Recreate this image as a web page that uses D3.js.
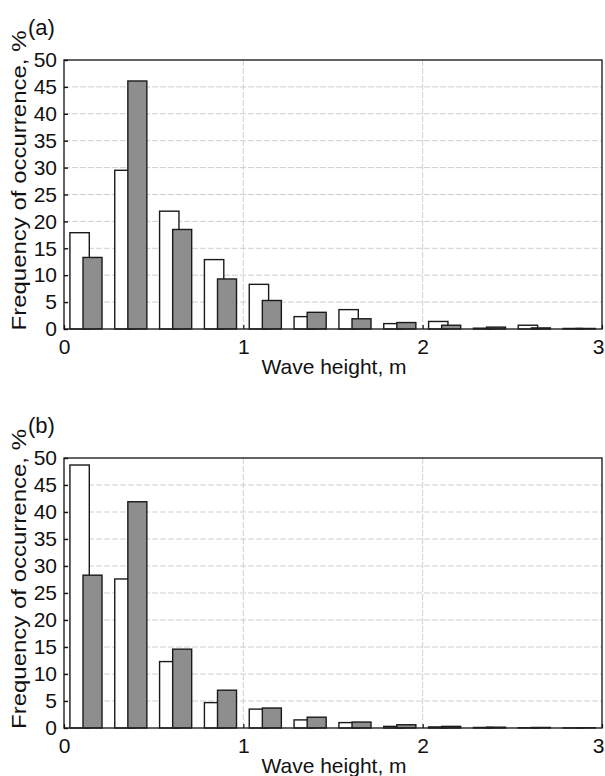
<!DOCTYPE html>
<html>
<head>
<meta charset="utf-8">
<script src="https://cdn.jsdelivr.net/npm/d3@7"></script>
<style>
  body { margin: 0; background: #fff; }
  text { font-family: "Liberation Sans", Arial, sans-serif; fill: #111; }
</style>
</head>
<body>
<svg width="605" height="776"></svg>
<script>
// Lower edges of the wave height bins (m), bin width 0.25 m
const binStarts = [0, 0.25, 0.5, 0.75, 1, 1.25, 1.5, 1.75, 2, 2.25, 2.5, 2.75];

// Panel (a) frequencies, %
const whiteA = [17.9, 29.5, 21.9, 12.9, 8.3, 2.3, 3.6, 1.0, 1.4, 0.15, 0.7, 0.1];
const grayA  = [13.3, 46.1, 18.5, 9.3, 5.3, 3.1, 1.9, 1.2, 0.7, 0.35, 0.2, 0.1];

// Panel (b) frequencies, %
const whiteB = [48.7, 27.6, 12.3, 4.7, 3.5, 1.5, 1.0, 0.3, 0.2, 0.1, 0.05, 0.02];
const grayB  = [28.3, 41.9, 14.6, 7.0, 3.7, 2.0, 1.1, 0.6, 0.3, 0.15, 0.1, 0.05];

const xTicks = [0, 1, 2, 3];
const yTicks = [0, 5, 10, 15, 20, 25, 30, 35, 40, 45, 50];

const svg = d3.select('svg');

// Draw one histogram panel
function drawPanel(label, whiteVals, grayVals, top, bottom){
    const left = 64, right = 602;
    const x = d3.scaleLinear().domain([0, 3]).range([left, right]);
    const y = d3.scaleLinear().domain([0, 50]).range([bottom, top]);
    const g = svg.append('g');

    // horizontal dashed grid
    g.selectAll('.hg').data(yTicks.slice(1, -1)).enter().append('line')
        .attr('x1', left).attr('x2', right)
        .attr('y1', d => y(d)).attr('y2', d => y(d))
        .style('stroke', '#cfcfcf').style('stroke-width', 1)
        .style('stroke-dasharray', '6,2');
    // vertical dashed grid
    g.selectAll('.vg').data(xTicks.slice(1, -1)).enter().append('line')
        .attr('x1', d => x(d)).attr('x2', d => x(d))
        .attr('y1', top).attr('y2', bottom)
        .style('stroke', '#cfcfcf').style('stroke-width', 1)
        .style('stroke-dasharray', '6,2');

    // white bars, then gray bars on top
    g.selectAll('.wb').data(whiteVals).enter().append('rect')
        .attr('x', (d, i) => x(binStarts[i] + 0.033))
        .attr('width', x(0.108) - x(0))
        .attr('y', d => y(d))
        .attr('height', d => bottom - y(d))
        .style('fill', '#fff').style('stroke', '#1a1a1a').style('stroke-width', 1.4);
    g.selectAll('.gb').data(grayVals).enter().append('rect')
        .attr('x', (d, i) => x(binStarts[i] + 0.106))
        .attr('width', x(0.106) - x(0))
        .attr('y', d => y(d))
        .attr('height', d => bottom - y(d))
        .style('fill', '#8e8e8e').style('stroke', '#1a1a1a').style('stroke-width', 1.4);

    // frame
    g.append('rect')
        .attr('x', left).attr('y', top)
        .attr('width', right - left).attr('height', bottom - top)
        .style('fill', 'none').style('stroke', '#222').style('stroke-width', 1.4);

    // y axis ticks pointing inward
    const yAxis = d3.axisLeft(y).tickValues(yTicks).tickSizeInner(-4).tickSizeOuter(0).tickPadding(7);
    const ya = g.append('g').attr('transform', `translate(${left},0)`).call(yAxis);
    ya.select('.domain').remove();
    ya.selectAll('line').style('stroke', '#111').style('stroke-width', 1.4);
    ya.selectAll('text').style('font-size', '21px').style('font-family', '"Liberation Sans", Arial, sans-serif').attr('fill', '#111');

    const xAxis = d3.axisBottom(x).tickValues(xTicks).tickFormat(d3.format('d'))
        .tickSizeInner(-4).tickSizeOuter(0).tickPadding(10);
    const xa = g.append('g').attr('transform', `translate(0,${bottom})`).call(xAxis);
    xa.select('.domain').remove();
    xa.selectAll('line').style('stroke', '#111').style('stroke-width', 1.2);
    xa.selectAll('text').style('font-size', '21px').style('font-family', '"Liberation Sans", Arial, sans-serif').attr('fill', '#111');
    // last label sits at the page edge, keep it inside
    xa.selectAll('text').filter(d => d === 3).attr('text-anchor', 'end').attr('dx', 2);

    // axis titles
    g.append('text')
        .text('Wave height, m')
        .attr('x', 334).attr('y', bottom + 45)
        .attr('text-anchor', 'middle')
        .style('font-size', '21px');
    g.append('text')
        .text('Frequency of occurrence, %')
        .attr('transform', `translate(26,${(top + bottom) / 2 - 14}) rotate(-90)`)
        .attr('text-anchor', 'middle')
        .attr('textLength', 300).attr('lengthAdjust', 'spacingAndGlyphs')
        .style('font-size', '21px');

    // panel label
    g.append('text')
        .text(label)
        .attr('x', 28).attr('y', top - 25)
        .style('font-size', '22px');
}

drawPanel('(a)', whiteA, grayA, 60, 329);
drawPanel('(b)', whiteB, grayB, 458, 728);
</script>
</body>
</html>
